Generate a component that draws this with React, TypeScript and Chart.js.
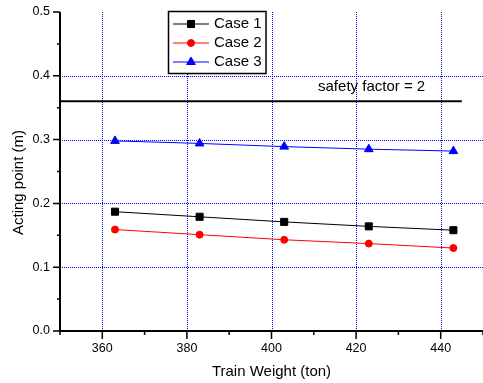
import React, { useEffect, useRef } from 'react';
import { Chart, registerables } from 'chart.js';
import { drawPoint } from 'chart.js/helpers';

Chart.register(...registerables);

const TRAIN_WEIGHT = [363, 383, 403, 423, 443];
const CASE_1 = [0.187, 0.179, 0.171, 0.164, 0.158];
const CASE_2 = [0.159, 0.151, 0.143, 0.137, 0.13];
const CASE_3 = [0.298, 0.294, 0.289, 0.285, 0.282];
const SAFETY_X = [350, 445];
const SAFETY_Y = [0.36, 0.36];
const SAFETY_TEXT = 'safety factor = 2';
const SERIES_NAMES = ['Case 1', 'Case 2', 'Case 3'];
const X_TICKS = [350, 360, 370, 380, 390, 400, 410, 420, 430, 440, 450];
const X_LABELS: Record<number, string> = { 360: '360', 380: '380', 400: '400', 420: '420', 440: '440' };
const X_GRID = [360, 380, 400, 420, 440];
const Y_TICKS = [0, 0.05, 0.1, 0.15, 0.2, 0.25, 0.3, 0.35, 0.4, 0.45, 0.5];
const Y_LABELS: Record<string, string> = { '0.00': '0.0', '0.10': '0.1', '0.20': '0.2', '0.30': '0.3', '0.40': '0.4', '0.50': '0.5' };
const Y_GRID = [0.1, 0.2, 0.3, 0.4];
const X_TITLE = 'Train Weight (ton)';
const Y_TITLE = 'Acting point (m)';

const FONT = '"Liberation Sans", Arial, sans-serif';
const CLEAR = 'rgba(0,0,0,0)';

const gridPlugin = {
  id: 'dotgrid',
  beforeDatasetsDraw(chart: any) {
    const { ctx, chartArea, scales } = chart;
    ctx.save();
    ctx.strokeStyle = '#0000ff';
    ctx.lineWidth = 1;
    ctx.setLineDash([1, 1]);
    ctx.beginPath();
    X_GRID.forEach((v) => {
      const px = Math.round(scales.x.getPixelForValue(v)) + 0.5;
      ctx.moveTo(px, chartArea.top);
      ctx.lineTo(px, chartArea.bottom);
    });
    Y_GRID.forEach((v) => {
      const py = Math.round(scales.y.getPixelForValue(v)) + 0.5;
      ctx.moveTo(chartArea.left, py);
      ctx.lineTo(chartArea.right, py);
    });
    ctx.stroke();
    ctx.restore();
  },
};

const decorPlugin = {
  id: 'decor',
  afterDatasetsDraw(chart: any) {
    const { ctx, chartArea, scales } = chart;
    const xs = scales.x;
    const ys = scales.y;
    ctx.save();
    ctx.strokeStyle = '#000';
    ctx.lineWidth = 2;
    ctx.beginPath();
    ctx.moveTo(chartArea.left, chartArea.top);
    ctx.lineTo(chartArea.left, chartArea.bottom + 1);
    ctx.moveTo(chartArea.left - 1, chartArea.bottom);
    ctx.lineTo(chartArea.right, chartArea.bottom);
    ctx.stroke();
    ctx.lineWidth = 1.5;
    ctx.beginPath();
    X_TICKS.forEach((v) => {
      const px = xs.getPixelForValue(v);
      const len = v % 20 === 0 ? 8 : 4;
      ctx.moveTo(px, chartArea.bottom);
      ctx.lineTo(px, chartArea.bottom + len);
    });
    Y_TICKS.forEach((v) => {
      const py = ys.getPixelForValue(v);
      const len = Y_LABELS[v.toFixed(2)] !== undefined ? 7 : 3;
      ctx.moveTo(chartArea.left, py);
      ctx.lineTo(chartArea.left - len, py);
    });
    ctx.stroke();

    ctx.fillStyle = '#000';
    ctx.font = '15px ' + FONT;
    ctx.textAlign = 'left';
    ctx.textBaseline = 'alphabetic';
    ctx.fillText(SAFETY_TEXT, xs.getPixelForValue(411), ys.getPixelForValue(0.376));

    ctx.textAlign = 'center';
    ctx.textBaseline = 'middle';
    ctx.fillText(X_TITLE, (chartArea.left + chartArea.right) / 2, 372);
    ctx.save();
    ctx.translate(19, 182.5);
    ctx.rotate(-Math.PI / 2);
    ctx.fillText(Y_TITLE, 0, 0);
    ctx.restore();

    const lx = 168.5, ly = 11.5, lw = 97.5, lh = 62;
    ctx.fillStyle = '#fff';
    ctx.fillRect(lx, ly, lw, lh);
    ctx.strokeStyle = '#000';
    ctx.lineWidth = 1.5;
    ctx.strokeRect(lx, ly, lw, lh);
    const rows = [24, 43, 62];
    chart.data.datasets.slice(0, 3).forEach((ds: any, i: number) => {
      const y = rows[i];
      ctx.strokeStyle = ds.borderColor;
      ctx.lineWidth = 1;
      ctx.beginPath();
      ctx.moveTo(173, y);
      ctx.lineTo(209, y);
      ctx.stroke();
      ctx.fillStyle = ds.pointBackgroundColor;
      ctx.strokeStyle = ds.pointBorderColor;
      drawPoint(ctx, { pointStyle: ds.pointStyle, radius: ds.pointRadius, borderWidth: 1, rotation: 0 } as any, 191, y);
      ctx.fillStyle = '#000';
      ctx.textAlign = 'left';
      ctx.textBaseline = 'middle';
      ctx.font = '15px ' + FONT;
      ctx.fillText(ds.label, 214, y);
    });
    ctx.restore();
  },
};

export default function App() {
  const ref = useRef<HTMLCanvasElement>(null);
  useEffect(() => {
    if (!ref.current) return;
    const mk = (ys: number[]) => TRAIN_WEIGHT.map((x, i) => ({ x, y: ys[i] }));
    const chart = new Chart(ref.current, {
      type: 'line',
      data: {
        datasets: [
          { label: SERIES_NAMES[0], data: mk(CASE_1), borderColor: '#000000', borderWidth: 1, pointStyle: 'rect', pointRadius: 5, pointBackgroundColor: '#000000', pointBorderColor: '#000000', pointBorderWidth: 1 },
          { label: SERIES_NAMES[1], data: mk(CASE_2), borderColor: '#ff0000', borderWidth: 1, pointStyle: 'circle', pointRadius: 3.5, pointBackgroundColor: '#ff0000', pointBorderColor: '#ff0000', pointBorderWidth: 1 },
          { label: SERIES_NAMES[2], data: mk(CASE_3), borderColor: '#0000ff', borderWidth: 1, pointStyle: 'triangle', pointRadius: 5, pointBackgroundColor: '#0000ff', pointBorderColor: '#0000ff', pointBorderWidth: 1 },
          { label: 'safety', data: SAFETY_X.map((x, i) => ({ x, y: SAFETY_Y[i] })), borderColor: '#000000', borderWidth: 2, pointRadius: 0 },
        ] as any,
      },
      options: {
        animation: false,
        responsive: false,
        layout: { autoPadding: false, padding: { top: 12, right: 0, left: 0, bottom: 0 } },
        plugins: { legend: { display: false }, title: { display: false }, tooltip: { enabled: false } },
        scales: {
          x: {
            type: 'linear',
            min: 350,
            max: 450,
            afterBuildTicks: (s: any) => { s.ticks = X_TICKS.map((v) => ({ value: v })); },
            afterFit: (s: any) => { s.height = 52; s.paddingLeft = 0; s.paddingRight = 0; },
            ticks: {
              autoSkip: false,
              maxRotation: 0,
              padding: 0,
              color: '#000',
              font: { family: FONT, size: 12.5 },
              callback: (v: any) => X_LABELS[v] ?? '',
            },
            grid: { drawTicks: true, tickLength: 10, tickColor: CLEAR, color: CLEAR, lineWidth: 0 },
            border: { display: false },
          },
          y: {
            type: 'linear',
            min: 0,
            max: 0.5,
            afterBuildTicks: (s: any) => { s.ticks = Y_TICKS.map((v) => ({ value: v })); },
            afterFit: (s: any) => { s.width = 60; s.paddingTop = 0; s.paddingBottom = 0; },
            ticks: {
              autoSkip: false,
              padding: 0,
              color: '#000',
              font: { family: FONT, size: 12.5 },
              callback: (v: any) => Y_LABELS[Number(v).toFixed(2)] ?? '',
            },
            grid: { drawTicks: true, tickLength: 10, tickColor: CLEAR, color: CLEAR, lineWidth: 0 },
            border: { display: false },
          },
        },
      } as any,
      plugins: [gridPlugin, decorPlugin],
    });
    return () => chart.destroy();
  }, []);
  return (
    <div style={{ position: 'fixed', left: 0, top: 0, width: 483, height: 383, background: '#fff' }}>
      <canvas ref={ref} width={483} height={383} style={{ display: 'block' }} />
    </div>
  );
}
